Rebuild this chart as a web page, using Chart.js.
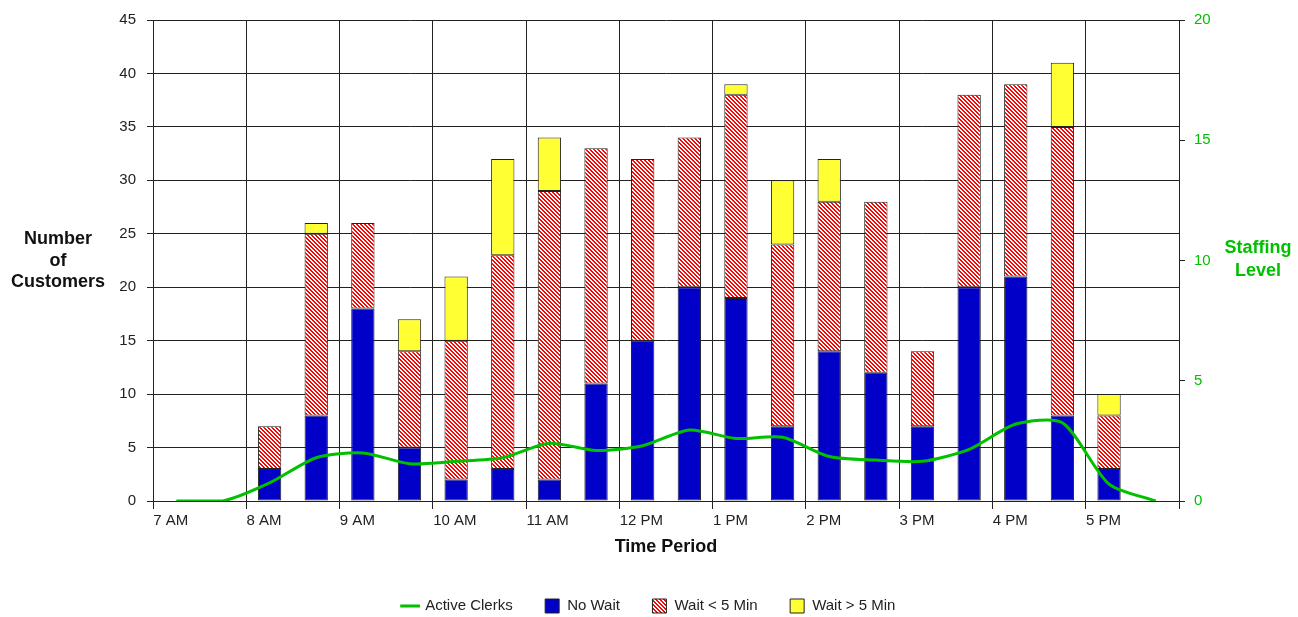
<!DOCTYPE html>
<html>
<head>
<meta charset="utf-8">
<script src="https://cdn.jsdelivr.net/npm/chart.js@4.4.1/dist/chart.umd.min.js"></script>
<style>
  body { margin: 0; background: #fff; }
  #wrap { position: relative; width: 1298px; height: 617px; }
  .ytitle { position: absolute; font: bold 18px "Liberation Sans", Arial, sans-serif; text-align: center; }
  #leftTitle { left: 0; top: 228px; width: 116px; line-height: 21.5px; color: #111; }
  #rightTitle { left: 1208px; top: 236px; width: 100px; line-height: 23px; color: #00c000; }
</style>
</head>
<body>
<div id="wrap">
  <canvas id="customerChart"></canvas>
  <div class="ytitle" id="leftTitle">Number<br>of<br>Customers</div>
  <div class="ytitle" id="rightTitle">Staffing<br>Level</div>
</div>
<script>
// half-hour slots from 7:00 AM to 5:30 PM, labels only on the hour
const tickLabels = ['7 AM', '', '8 AM', '', '9 AM', '', '10 AM', '', '11 AM', '', '12 PM', '',
                    '1 PM', '', '2 PM', '', '3 PM', '', '4 PM', '', '5 PM', ''];

// customers per slot
const noWait =     [null, null, 3, 8, 18, 5, 2, 3, 2, 11, 15, 20, 19, 7, 14, 12, 7, 20, 21, 8, 3, null];
const waitUnder5 = [null, null, 4, 17, 8, 9, 13, 20, 27, 22, 17, 14, 19, 17, 14, 16, 7, 18, 18, 27, 5, null];
const waitOver5 =  [null, null, 0, 1, 0, 3, 6, 9, 5, 0, 0, 0, 1, 6, 4, 0, 0, 0, 0, 6, 2, null];

// staffing level (right axis)
const activeClerks = [0, 0, 0.75, 1.8, 2.0, 1.55, 1.65, 1.8, 2.4, 2.1, 2.3, 2.95,
                      2.6, 2.65, 1.85, 1.7, 1.65, 2.15, 3.2, 3.25, 0.7, 0];

const customerTicks = { min: 0, max: 45, step: 5 };
const staffTicks = { min: 0, max: 20, step: 5 };

const GREEN = '#00c000';
const FONT = '"Liberation Sans", Arial, sans-serif';

// red diagonal hatch for "Wait < 5 Min" (crisp pixel stripes)
function makeHatch() {
    const c = document.createElement('canvas');
    c.width = 8;
    c.height = 8;
    const g = c.getContext('2d');
    g.fillStyle = '#fff';
    g.fillRect(0, 0, 8, 8);
    g.fillStyle = '#ff0000';
    for (let y = 0; y < 8; y++) {
        for (let x = 0; x < 8; x++) {
            if (((x - y) % 4 + 4) % 4 < 2) g.fillRect(x, y, 1, 1);
        }
    }
    return g.createPattern(c, 'repeat');
}

Chart.defaults.font.family = FONT;
Chart.defaults.font.size = 15;
Chart.defaults.color = '#222';

const hourGrid = ctx => (ctx.index === undefined || ctx.index % 2 === 0) ? '#222' : 'rgba(0,0,0,0)';

const legendPad = 32;

new Chart(document.getElementById('customerChart'), {
    type: 'bar',
    data: {
        labels: tickLabels,
        datasets: [
            {
                type: 'line',
                label: 'Active Clerks',
                data: activeClerks,
                yAxisID: 'y1',
                borderColor: GREEN,
                backgroundColor: GREEN,
                borderWidth: 3,
                pointRadius: 0,
                pointBorderWidth: 3,
                pointStyle: 'line',
                tension: 0.25,
                order: 0
            },
            {
                label: 'No Wait',
                data: noWait,
                backgroundColor: '#0000c8',
                borderColor: '#222',
                borderWidth: 1,
                borderSkipped: false,
                pointStyle: 'rect',
                order: 1
            },
            {
                label: 'Wait < 5 Min',
                data: waitUnder5,
                backgroundColor: makeHatch(),
                borderColor: '#222',
                borderWidth: 1,
                borderSkipped: false,
                pointStyle: 'rect',
                order: 1
            },
            {
                label: 'Wait > 5 Min',
                data: waitOver5,
                backgroundColor: '#ffff33',
                borderColor: '#222',
                borderWidth: 1,
                borderSkipped: false,
                pointStyle: 'rect',
                order: 1
            }
        ]
    },
    options: {
        responsive: true,
        maintainAspectRatio: false,
        animation: false,
        layout: { padding: { top: 19, left: 0, right: 0, bottom: -6.5 } },
        datasets: { bar: { barPercentage: 0.5, categoryPercentage: 1.0 } },
        plugins: {
            tooltip: { enabled: false },
            legend: {
                position: 'bottom',
                labels: { usePointStyle: true, boxHeight: 14, padding: legendPad, color: '#222', font: { size: 15 } }
            }
        },
        scales: {
            x: {
                stacked: true,
                offset: true,
                grid: { offset: true, color: hourGrid, tickLength: 8 },
                border: { color: '#222' },
                ticks: { autoSkip: false, maxRotation: 0, align: 'start', labelOffset: -23, padding: 3 },
                title: { display: true, text: 'Time Period', font: { size: 18, weight: 'bold' }, color: '#111', padding: { top: 4, bottom: 40.7 - legendPad } },
                afterFit: s => { s.height = 97.5 - legendPad; }
            },
            y: {
                stacked: true,
                min: customerTicks.min,
                max: customerTicks.max,
                grid: { color: '#222', tickLength: 6 },
                border: { color: '#222' },
                ticks: { stepSize: customerTicks.step, padding: 11 },
                afterFit: s => { s.width = 153; }
            },
            y1: {
                position: 'right',
                min: staffTicks.min,
                max: staffTicks.max,
                grid: { drawOnChartArea: false, color: '#222', tickLength: 6 },
                border: { color: '#222' },
                ticks: { stepSize: staffTicks.step, color: GREEN, padding: 9 },
                afterFit: s => { s.width = 119; }
            }
        }
    }
});
</script>
</body>
</html>
